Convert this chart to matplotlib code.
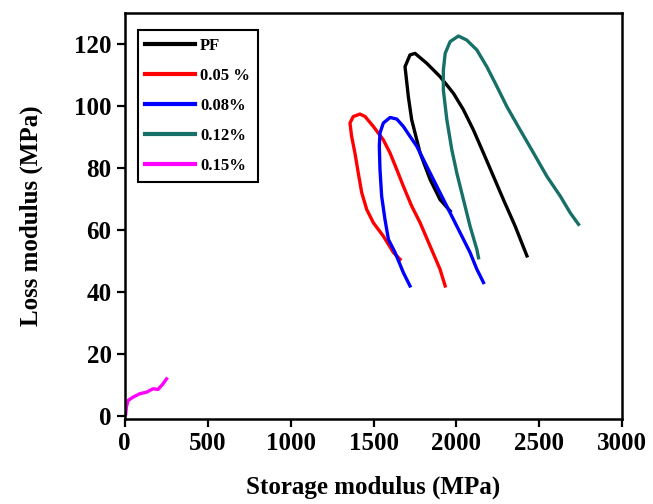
"""
plot.py
-------

Loss modulus against storage modulus for PF and the filled samples.
"""

import matplotlib
matplotlib.use("Agg")
from matplotlib import pyplot as plt

# data (storage modulus, loss modulus), MPa
pf_x = [1962, 1901, 1841, 1781, 1730, 1710, 1690, 1720, 1750, 1821, 1901,
        1982, 2042, 2102, 2163, 2223, 2283, 2354, 2425]
pf_y = [66.1, 69.8, 76.3, 84.8, 95.6, 103.0, 112.7, 116.5, 117.0, 113.8,
        109.5, 104.1, 98.8, 92.3, 84.8, 77.3, 69.8, 61.2, 51.6]

p005_x = [1660, 1620, 1559, 1499, 1459, 1429, 1408, 1388, 1368, 1358, 1378,
          1418, 1449, 1499, 1559, 1600, 1640, 1680, 1730, 1781, 1841, 1901,
          1932]
p005_y = [50.5, 52.7, 58.0, 62.3, 66.6, 72.0, 78.4, 84.8, 90.2, 94.5, 96.6,
          97.4, 96.6, 93.4, 89.1, 84.8, 79.5, 74.1, 67.7, 62.3, 54.8, 47.3,
          41.9]

p008_x = [1720, 1680, 1630, 1590, 1569, 1549, 1539, 1535, 1539, 1559, 1600,
          1640, 1680, 1720, 1761, 1801, 1841, 1901, 1962, 2022, 2082, 2123,
          2163]
p008_y = [41.9, 46.2, 52.7, 56.9, 63.4, 70.9, 79.5, 87.0, 91.3, 94.5, 96.3,
          95.8, 93.4, 90.2, 87.0, 82.7, 78.4, 72.0, 65.5, 59.1, 52.7, 47.3,
          43.0]

p012_x = [2133, 2123, 2082, 2042, 2002, 1972, 1942, 1921, 1921, 1932, 1962,
          2012, 2062, 2123, 2183, 2244, 2304, 2384, 2465, 2545, 2626, 2686,
          2736]
p012_y = [51.0, 53.7, 61.2, 69.8, 78.4, 85.9, 95.6, 105.2, 111.6, 117.0,
          120.8, 122.6, 121.3, 118.1, 112.7, 106.3, 99.8, 92.3, 84.8, 77.3,
          70.9, 65.5, 61.8]

p015_x = [6, 10, 20, 50, 91, 131, 171, 201, 231, 252]
p015_y = [0.6, 2.8, 4.9, 6.0, 7.1, 7.6, 8.7, 8.5, 10.3, 11.9]

labels = ["PF", "0.05 %", "0.08%", "0.12%", "0.15%"]
colors = ["black", "#ff0000", "#0000ff", "#167068", "#ff00ff"]

xticks = [0, 500, 1000, 1500, 2000, 2500, 3000]
yticks = [0, 20, 40, 60, 80, 100, 120]


def main():
    plt.rcParams["font.family"] = ["Liberation Serif", "DejaVu Serif"]
    plt.rcParams["font.weight"] = "bold"

    fig = plt.figure(figsize=(6.53, 5.04), dpi=100)
    ax = fig.add_axes([0.191, 0.169, 0.762, 0.805])

    series = [(pf_x, pf_y), (p005_x, p005_y), (p008_x, p008_y),
              (p012_x, p012_y), (p015_x, p015_y)]
    for (xs, ys), lab, col in zip(series, labels, colors):
        ax.plot(xs, ys, color=col, lw=2.4, label=lab)

    ax.set_xlim(0, 3000)
    ax.set_ylim(-1, 130)
    ax.set_xticks(xticks)
    ax.set_yticks(yticks)
    ax.tick_params(direction="out", length=6, width=1.6, labelsize=18)
    for s in ax.spines.values():
        s.set_linewidth(1.8)

    ax.set_xlabel("Storage modulus (MPa)", fontsize=18, fontweight="bold",
                  labelpad=15)
    ax.set_ylabel("Loss modulus (MPa)", fontsize=18, fontweight="bold",
                  labelpad=22)

    # legend box sits just inside the top-left corner
    leg = ax.legend(loc="upper left", bbox_to_anchor=(0.026, 0.958),
                    borderaxespad=0, fancybox=False, framealpha=1,
                    edgecolor="black", prop={"size": 12, "weight": "bold"},
                    handlelength=3.0, labelspacing=0.85, borderpad=0.45,
                    handletextpad=0.3)
    leg.get_frame().set_linewidth(1.5)
    for line in leg.get_lines():
        line.set_linewidth(3)

    fig.savefig("out.png", dpi=100)


if __name__ == '__main__':
    main()
